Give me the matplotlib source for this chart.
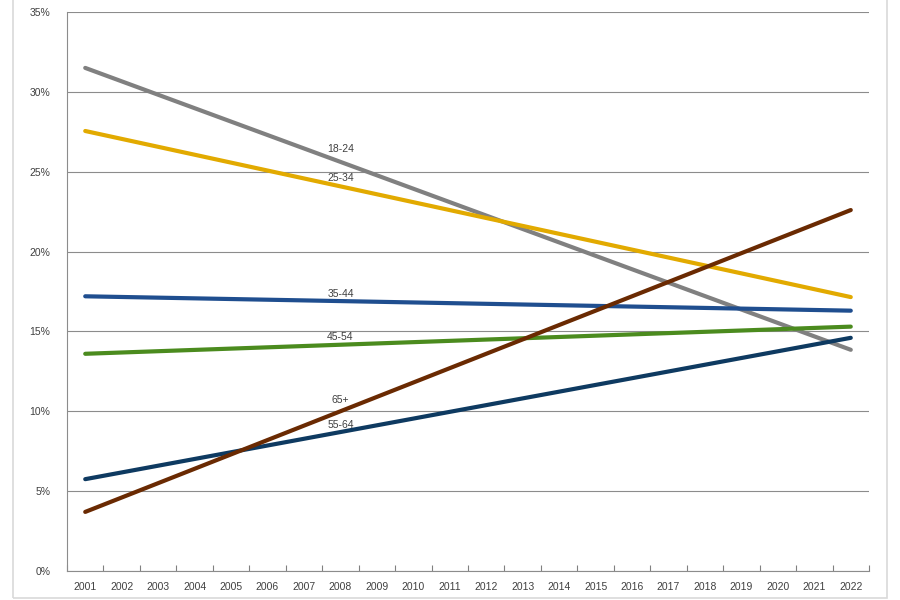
import matplotlib
matplotlib.use("Agg")
import matplotlib.pyplot as plt
from matplotlib.patches import Rectangle
import numpy as np

plt.rcParams['font.family'] = ['Liberation Sans', 'DejaVu Sans']

years = list(range(2001, 2023))
ends = [2001, 2022]          # trend lines: only the end points are drawn

age_groups = ["18-24", "25-34", "35-44", "45-54", "55-64", "65+"]
share_18_24 = [31.5, 13.85]
share_25_34 = [27.55, 17.15]
share_35_44 = [17.2, 16.3]
share_45_54 = [13.6, 15.3]
share_55_64 = [5.75, 14.6]
share_65p = [3.7, 22.6]
label_year = 2008

colors = ["#808080", "#E2AA00", "#1F4E8F", "#4B8B1E", "#0E3A61", "#6A2A02"]
series = [share_18_24, share_25_34, share_35_44, share_45_54, share_55_64, share_65p]
label_dy = [8, 3, 2, 3, 2, 6]   # px above the line at label_year

fig = plt.figure(figsize=(9, 6), dpi=100)
ax = fig.add_axes([67/900, 1 - 571/600, (869-67)/900, (571-12)/600])

for name, vals, c, dy in zip(age_groups, series, colors, label_dy):
    ax.plot(ends, vals, color=c, lw=3.0, solid_capstyle="round", zorder=3)
    yl = np.interp(label_year, ends, vals)
    ax.annotate(name, (label_year, yl), xytext=(0, dy * 0.72), textcoords="offset points",
                ha="center", va="bottom", fontsize=7.5, color="#404040", zorder=4)

ax.set_xlim(years[0] - 0.5, years[-1] + 0.5)
ax.set_ylim(0, 35)
ax.set_yticks(np.arange(0, 36, 5))
ax.set_yticklabels([f"{v}%" for v in range(0, 36, 5)])
ax.set_xticks(years)
ax.set_xticklabels([str(y) for y in years])
ax.set_xticks(np.arange(years[0] - 0.5, years[-1] + 1, 1), minor=True)
ax.tick_params(axis="x", which="major", length=0, pad=8, labelsize=7.5, labelcolor="#404040")
ax.tick_params(axis="x", which="minor", direction="in", length=4, color="#808080", width=0.8)
ax.tick_params(axis="y", length=0, pad=12, labelsize=7.5, labelcolor="#404040")

ax.grid(axis="y", color="#8C8C8C", lw=0.8)
ax.set_axisbelow(True)
for s in ["top", "right"]:
    ax.spines[s].set_visible(False)
for s in ["left", "bottom"]:
    ax.spines[s].set_color("#8C8C8C")
    ax.spines[s].set_linewidth(0.8)

# light outer chart frame
fig.patches.append(Rectangle((13/900, 2/600), (887-13)/900, 1.0, transform=fig.transFigure,
                             fill=False, edgecolor="#D9D9D9", lw=1.2))

fig.savefig("out.png", dpi=100)
